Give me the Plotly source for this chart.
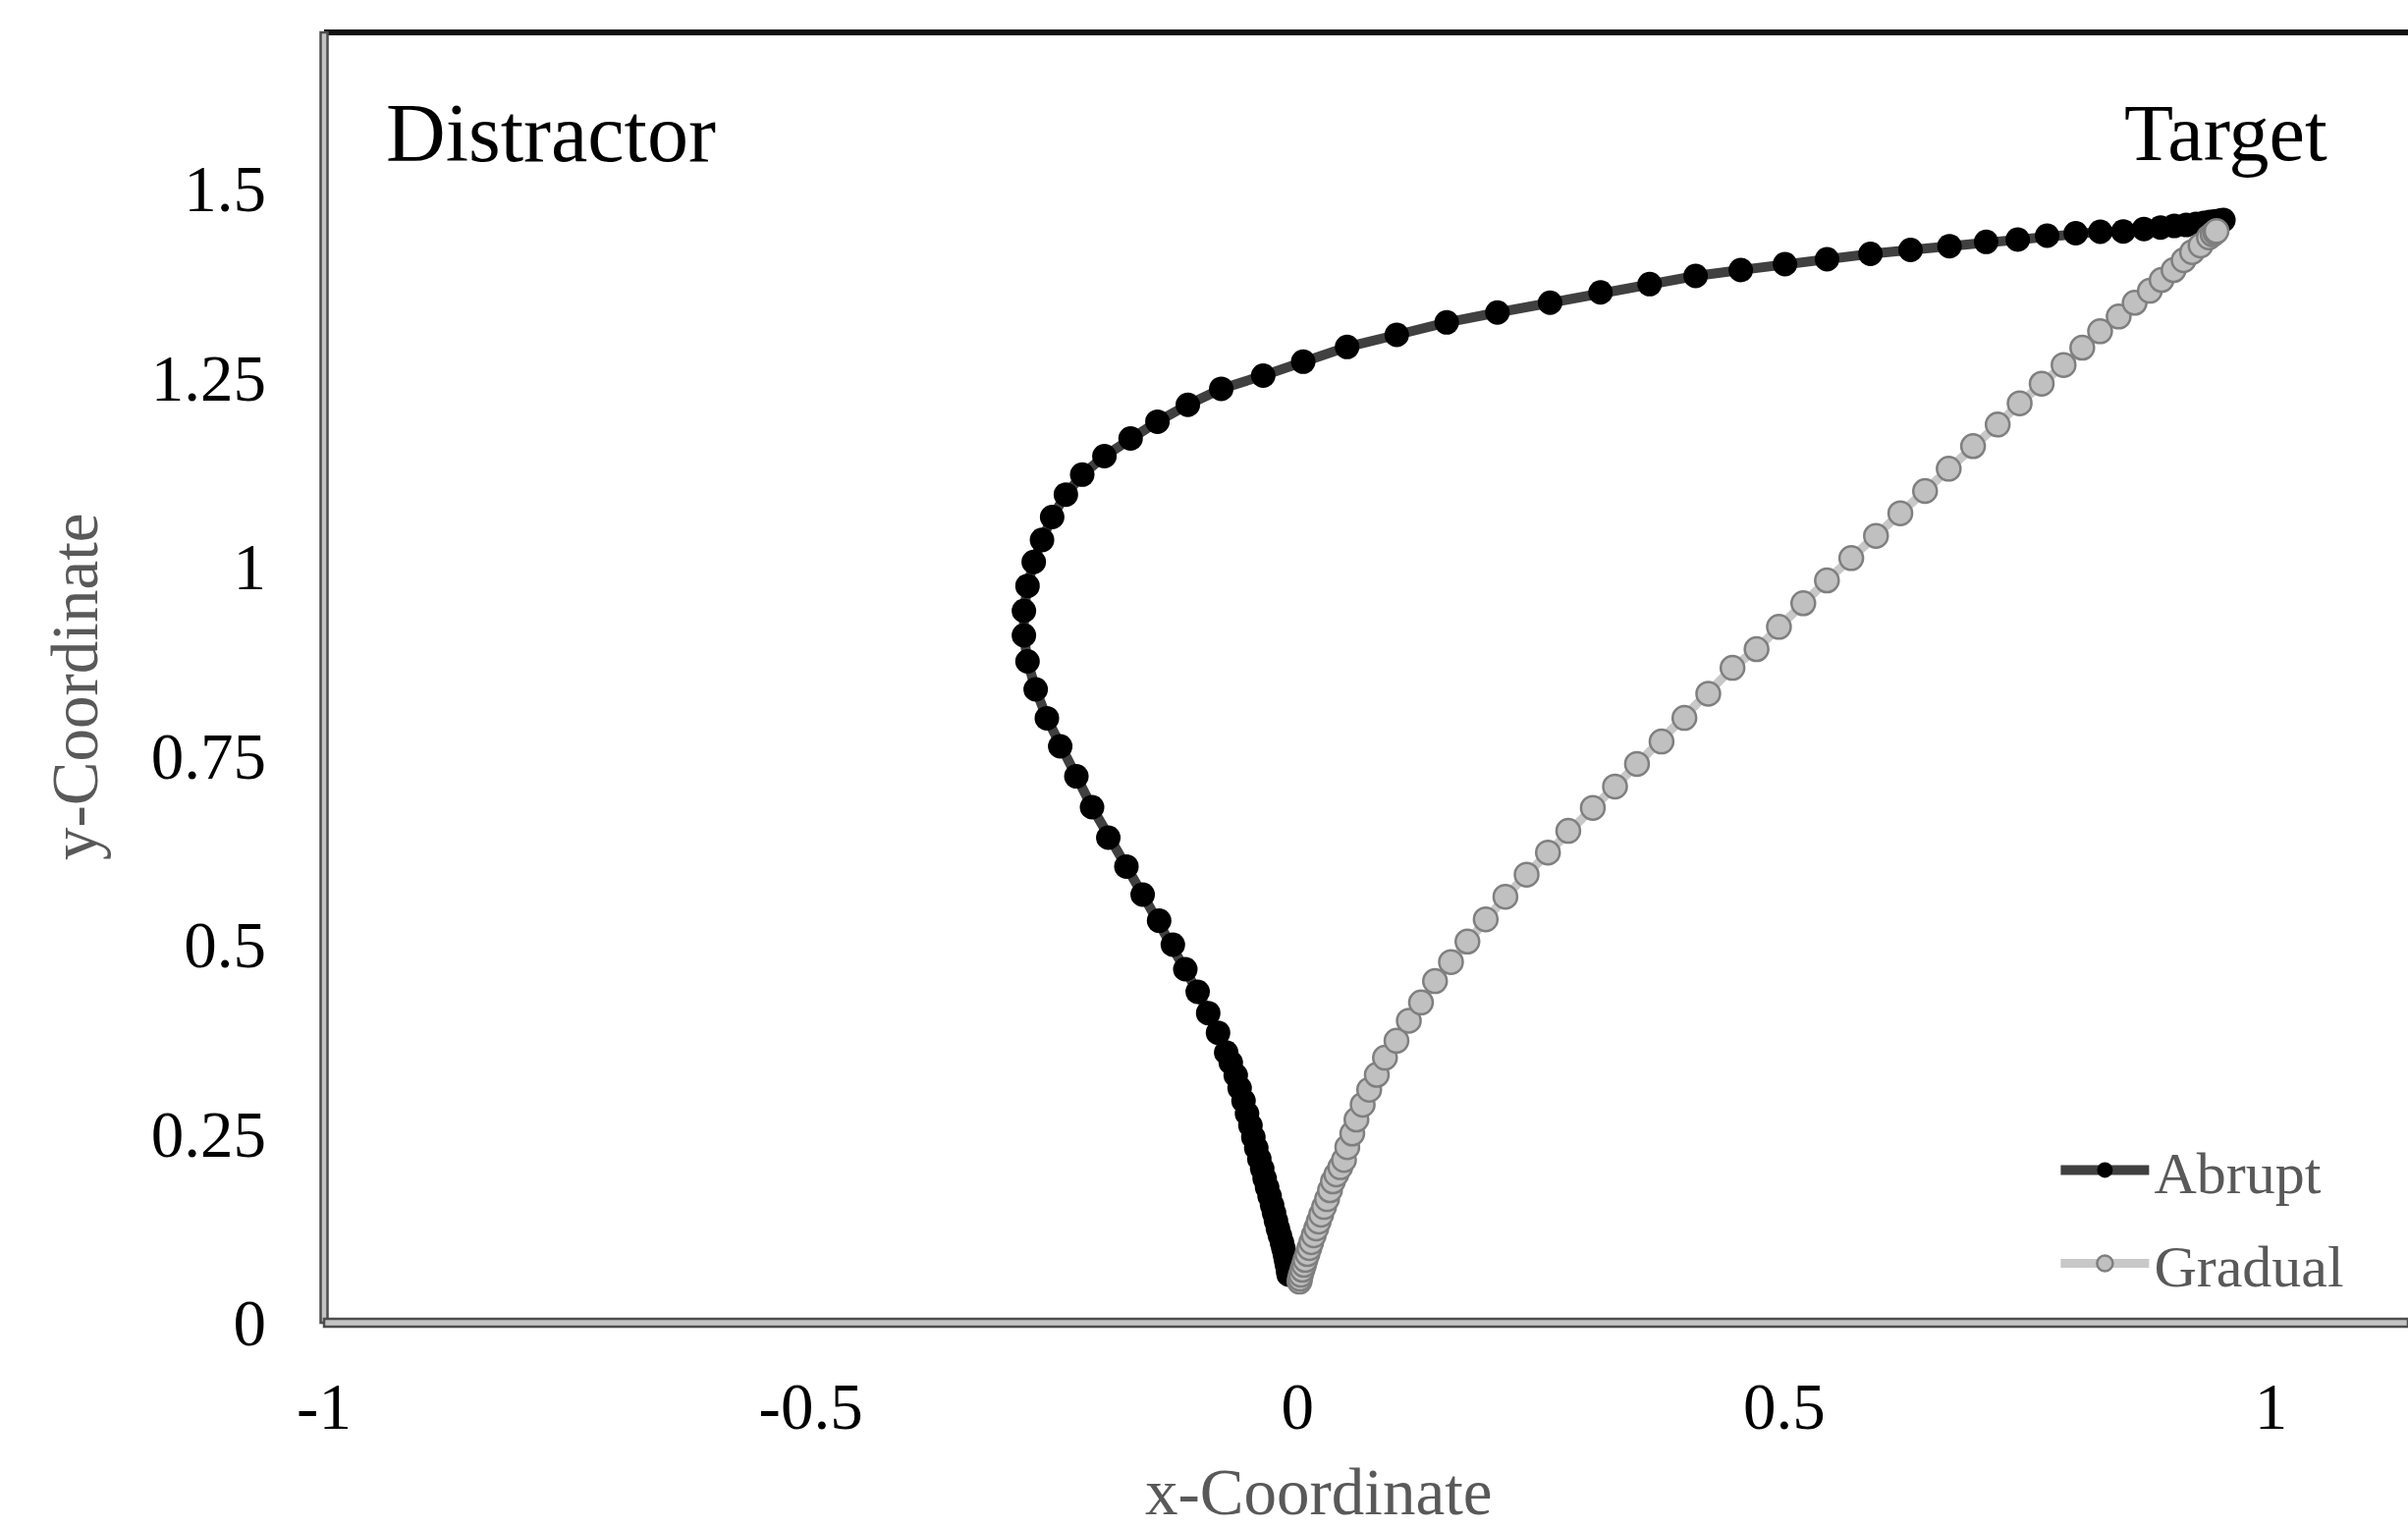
import plotly.graph_objects as go

# ---- data ----
abrupt_x = [-0.0091, -0.0096, -0.0101, -0.0111, -0.0121, -0.0131, -0.0146, -0.0161, -0.0182, -0.0202,
            -0.0222, -0.0242, -0.0262, -0.0287, -0.0313, -0.0338, -0.0363, -0.0393, -0.0424, -0.0454,
            -0.0484, -0.0519, -0.0555, -0.0595, -0.0635, -0.0686, -0.0733, -0.0817, -0.0918, -0.1026,
            -0.1153, -0.1281, -0.1422, -0.1591, -0.1758, -0.1944, -0.2111, -0.2272, -0.2438, -0.2575,
            -0.2690, -0.2774, -0.2811, -0.2811, -0.2774, -0.2710, -0.2625, -0.2521, -0.2380, -0.2212,
            -0.1984, -0.1715, -0.1439, -0.1127, -0.0784, -0.0353, 0.0058, 0.0509, 0.1019, 0.1532,
            0.2053, 0.2594, 0.3112, 0.3617, 0.4089, 0.4553, 0.5007, 0.5439, 0.5885, 0.6297,
            0.6697, 0.7074, 0.7398, 0.7700, 0.7994, 0.8246, 0.8482, 0.8694, 0.8865, 0.9006,
            0.9128, 0.9228, 0.9309, 0.9370, 0.9420, 0.9460, 0.9490, 0.9511]
abrupt_y = [0.0636, 0.0675, 0.0727, 0.0779, 0.0844, 0.0909, 0.0987, 0.1065, 0.1156, 0.1247,
            0.1351, 0.1455, 0.1558, 0.1675, 0.1792, 0.1909, 0.2039, 0.2169, 0.2312, 0.2455,
            0.2610, 0.2766, 0.2935, 0.3104, 0.3273, 0.3442, 0.3575, 0.3835, 0.4095, 0.4377,
            0.4675, 0.5000, 0.5317, 0.5662, 0.6034, 0.6416, 0.6818, 0.7226, 0.7623, 0.7995,
            0.8377, 0.8747, 0.9091, 0.9416, 0.9744, 1.0062, 1.0353, 1.0656, 1.0952, 1.1217,
            1.1461, 1.1695, 1.1917, 1.2140, 1.2352, 1.2526, 1.2710, 1.2905, 1.3065, 1.3230,
            1.3360, 1.3490, 1.3627, 1.3736, 1.3844, 1.3922, 1.4000, 1.4065, 1.4136, 1.4188,
            1.4238, 1.4295, 1.4325, 1.4377, 1.4409, 1.4429, 1.4432, 1.4464, 1.4484, 1.4506,
            1.4519, 1.4532, 1.4545, 1.4558, 1.4565, 1.4571, 1.4578, 1.4584]

gradual_x = [0.0020, 0.0025, 0.0035, 0.0050, 0.0066, 0.0081, 0.0101, 0.0121, 0.0141, 0.0166,
             0.0192, 0.0217, 0.0242, 0.0272, 0.0303, 0.0333, 0.0363, 0.0398, 0.0439, 0.0477,
             0.0511, 0.0562, 0.0605, 0.0669, 0.0736, 0.0814, 0.0898, 0.1016, 0.1143, 0.1268,
             0.1412, 0.1576, 0.1745, 0.1933, 0.2135, 0.2353, 0.2572, 0.2781, 0.3033, 0.3261,
             0.3487, 0.3739, 0.3974, 0.4219, 0.4468, 0.4715, 0.4945, 0.5195, 0.5438, 0.5688,
             0.5942, 0.6192, 0.6446, 0.6689, 0.6939, 0.7192, 0.7418, 0.7644, 0.7869, 0.8061,
             0.8244, 0.8435, 0.8599, 0.8755, 0.8876, 0.8999, 0.9102, 0.9189, 0.9276, 0.9362,
             0.9400, 0.9425, 0.9440]
gradual_y = [0.0545, 0.0584, 0.0636, 0.0701, 0.0766, 0.0831, 0.0909, 0.0987, 0.1065, 0.1156,
             0.1247, 0.1338, 0.1429, 0.1532, 0.1636, 0.1753, 0.1870, 0.1961, 0.2058, 0.2153,
             0.2322, 0.2503, 0.2688, 0.2884, 0.3082, 0.3279, 0.3505, 0.3730, 0.3995, 0.4236,
             0.4518, 0.4771, 0.5042, 0.5335, 0.5634, 0.5926, 0.6219, 0.6506, 0.6810, 0.7092,
             0.7391, 0.7688, 0.7999, 0.8319, 0.8662, 0.8909, 0.9204, 0.9516, 0.9818, 1.0113,
             1.0406, 1.0705, 1.1000, 1.1295, 1.1594, 1.1879, 1.2160, 1.2419, 1.2666, 1.2896,
             1.3113, 1.3308, 1.3490, 1.3649, 1.3792, 1.3922, 1.4052, 1.4160, 1.4247, 1.4355,
             1.4396, 1.4422, 1.4438]

x_ticks = [-1, -0.5, 0, 0.5, 1]
x_tick_labels = ["-1", "-0.5", "0", "0.5", "1"]
y_ticks = [0, 0.25, 0.5, 0.75, 1, 1.25, 1.5]
y_tick_labels = ["0", "0.25", "0.5", "0.75", "1", "1.25", "1.5"]

SERIF = "Liberation Serif, Times New Roman, serif"

fig = go.Figure()
fig.add_trace(go.Scatter(
    x=abrupt_x, y=abrupt_y, mode="lines+markers", name="Abrupt", legendgroup="a",
    line=dict(color="#404040", width=10),
    marker=dict(color="#000000", size=25, line=dict(width=0)),
))
fig.add_trace(go.Scatter(
    x=gradual_x, y=gradual_y, mode="lines+markers", name="Gradual", legendgroup="g",
    line=dict(color="#c8c8c8", width=9),
    marker=dict(color="#c0c0c0", size=24, line=dict(color="#7f7f7f", width=2.5)),
))

fig.update_layout(
    width=2452, height=1556,
    margin=dict(l=330, r=0, t=33, b=209),
    paper_bgcolor="white", plot_bgcolor="white",
    font=dict(family=SERIF, size=67, color="black"),
    legend=dict(
        x=0.831, y=0.153, xanchor="left", yanchor="top",
        font=dict(family=SERIF, size=60, color="#595959"),
        bgcolor="rgba(0,0,0,0)", itemwidth=90, tracegroupgap=14,
    ),
    xaxis=dict(
        range=[-1, 1.1407], tickvals=x_ticks, ticktext=x_tick_labels,
        showgrid=False, zeroline=False, showline=False, ticks="",
        tickfont=dict(family=SERIF, size=67, color="black"),
        ticklabelstandoff=40,
    ),
    yaxis=dict(
        range=[0, 1.7065], tickvals=y_ticks, ticktext=y_tick_labels,
        showgrid=False, zeroline=False, showline=False, ticks="",
        tickfont=dict(family=SERIF, size=67, color="black"),
        ticklabelstandoff=58,
    ),
    shapes=[
        # top border
        dict(type="line", xref="paper", yref="paper", x0=0, x1=1, y0=1, y1=1,
             line=dict(color="#111111", width=6), layer="above"),
        # left double border
        dict(type="rect", xref="paper", xsizemode="pixel", xanchor=0, x0=-3.5, x1=3.5,
             yref="paper", y0=0, y1=1, fillcolor="#c4c4c4",
             line=dict(color="#4d4d4d", width=2.5), layer="above"),
        # bottom double border
        dict(type="rect", yref="paper", ysizemode="pixel", yanchor=0, y0=-4, y1=4,
             xref="paper", x0=0, x1=1, fillcolor="#c4c4c4",
             line=dict(color="#4d4d4d", width=2.5), layer="above"),
    ],
    annotations=[
        dict(text="Distractor", xref="x", yref="y", x=-0.938, y=1.573,
             xanchor="left", yanchor="middle", showarrow=False,
             font=dict(family=SERIF, size=84, color="black")),
        dict(text="Target", xref="x", yref="y", x=1.060, y=1.573,
             xanchor="right", yanchor="middle", showarrow=False,
             font=dict(family=SERIF, size=82, color="black")),
        dict(text="x-Coordinate", xref="x", yref="paper", x=0.022, y=-0.131,
             xanchor="center", yanchor="middle", showarrow=False,
             font=dict(family=SERIF, size=67, color="#595959")),
        dict(text="y-Coordinate", xref="paper", yref="y", x=-0.12, y=0.842,
             xanchor="center", yanchor="middle", showarrow=False, textangle=-90,
             font=dict(family=SERIF, size=67, color="#595959")),
    ],
)

fig.write_html("out.html")
